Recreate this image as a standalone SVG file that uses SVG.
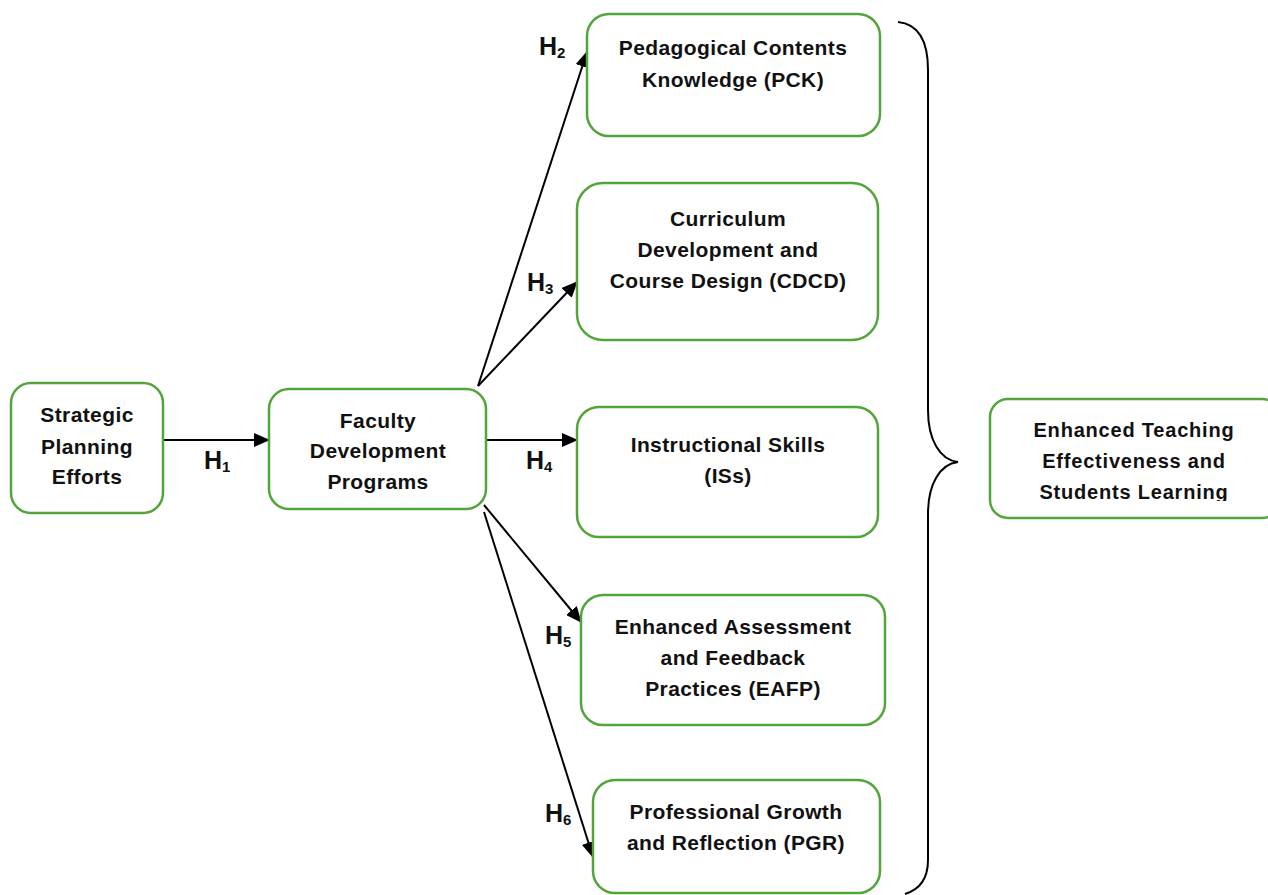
<svg xmlns="http://www.w3.org/2000/svg" width="1268" height="895" viewBox="0 0 1268 895">
<style>
.box{fill:#fff;stroke:#52a53a;stroke-width:2.5}
.t{font-family:"Liberation Sans",Arial,sans-serif;font-weight:bold;font-size:21px;letter-spacing:0.4px;fill:#111;text-anchor:middle}
.h{font-family:"Liberation Sans",Arial,sans-serif;font-weight:bold;font-size:25px;fill:#111}
.sub{font-size:15px}
.c{stroke:#000;stroke-width:2;fill:none}
</style>
<defs>
<marker id="ah" markerWidth="16" markerHeight="14" refX="15" refY="7" orient="auto" markerUnits="userSpaceOnUse">
<path d="M0,0 L16,7 L0,14 Z" fill="#000"/>
</marker>
<clipPath id="clipE"><rect x="980" y="390" width="300" height="111"/></clipPath>
</defs>
<rect width="1268" height="895" fill="#fff"/>
<g id="connectors">
<line class="c" x1="163" y1="440" x2="269" y2="440" marker-end="url(#ah)"/>
<line class="c" x1="478" y1="386" x2="587" y2="52" marker-end="url(#ah)"/>
<line class="c" x1="478" y1="386" x2="577" y2="282" marker-end="url(#ah)"/>
<line class="c" x1="486" y1="440" x2="577" y2="440" marker-end="url(#ah)"/>
<line class="c" x1="484" y1="505" x2="581" y2="622" marker-end="url(#ah)"/>
<line class="c" x1="484" y1="512" x2="593" y2="857" marker-end="url(#ah)"/>
<path class="c" d="M898,22 C918,24 928,40 928,70 L928,410 C928,440 940,460 958,462 C940,464 928,484 928,514 L928,860 C928,880 918,890 905,894"/>
<text class="h" x="204" y="469">H<tspan class="sub" dy="3">1</tspan></text>
<text class="h" x="539" y="55">H<tspan class="sub" dy="3">2</tspan></text>
<text class="h" x="527" y="291">H<tspan class="sub" dy="3">3</tspan></text>
<text class="h" x="526" y="469">H<tspan class="sub" dy="3">4</tspan></text>
<text class="h" x="545" y="644">H<tspan class="sub" dy="3">5</tspan></text>
<text class="h" x="545" y="822">H<tspan class="sub" dy="3">6</tspan></text>
</g>
<g id="strategic">
<rect class="box" x="11" y="383" width="152" height="130" rx="20"/>
<text class="t" x="87" y="422">Strategic</text>
<text class="t" x="87" y="454">Planning</text>
<text class="t" x="87" y="484">Efforts</text>
</g>
<g id="faculty">
<rect class="box" x="269" y="389" width="217" height="120" rx="20"/>
<text class="t" x="378" y="428">Faculty</text>
<text class="t" x="378" y="458">Development</text>
<text class="t" x="378" y="489">Programs</text>
</g>
<g id="pck">
<rect class="box" x="587" y="14" width="293" height="122" rx="22"/>
<text class="t" x="733" y="55">Pedagogical Contents</text>
<text class="t" x="733" y="87">Knowledge (PCK)</text>
</g>
<g id="cdcd">
<rect class="box" x="577" y="183" width="301" height="157" rx="26"/>
<text class="t" x="728" y="226">Curriculum</text>
<text class="t" x="728" y="257">Development and</text>
<text class="t" x="728" y="288">Course Design (CDCD)</text>
</g>
<g id="iss">
<rect class="box" x="577" y="407" width="301" height="130" rx="22"/>
<text class="t" x="728" y="452">Instructional Skills</text>
<text class="t" x="728" y="483">(ISs)</text>
</g>
<g id="eafp">
<rect class="box" x="581" y="595" width="304" height="130" rx="22"/>
<text class="t" x="733" y="634">Enhanced Assessment</text>
<text class="t" x="733" y="665">and Feedback</text>
<text class="t" x="733" y="696">Practices (EAFP)</text>
</g>
<g id="pgr">
<rect class="box" x="593" y="780" width="287" height="113" rx="22"/>
<text class="t" x="736" y="819">Professional Growth</text>
<text class="t" x="736" y="850">and Reflection (PGR)</text>
</g>
<g id="outcome">
<rect class="box" x="990" y="399" width="290" height="119" rx="18"/>
<g clip-path="url(#clipE)">
<text class="t" x="1134" y="437" style="letter-spacing:0.8px;font-size:20px">Enhanced Teaching</text>
<text class="t" x="1134" y="468" style="letter-spacing:0.8px;font-size:20px">Effectiveness and</text>
<text class="t" x="1134" y="499" style="letter-spacing:0.8px;font-size:20px">Students Learning</text>
</g>
</g>
</svg>
